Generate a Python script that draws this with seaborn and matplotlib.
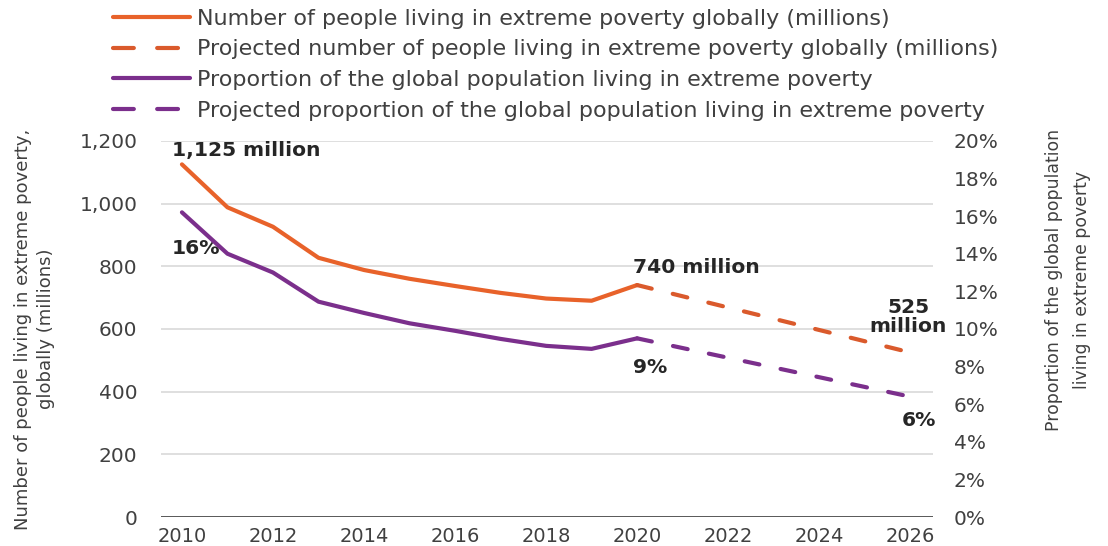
import matplotlib
matplotlib.use("Agg")
import matplotlib.pyplot as plt
import matplotlib.ticker as mticker
from matplotlib.lines import Line2D
import seaborn as sns
import pandas as pd

# ---- data ----
years_hist = [2010, 2011, 2012, 2013, 2014, 2015, 2016, 2017, 2018, 2019, 2020]
millions_hist = [1125, 988, 926, 827, 788, 760, 737, 715, 697, 690, 740]
share_hist = [16.2, 14.0, 13.0, 11.45, 10.85, 10.3, 9.9, 9.47, 9.1, 8.94, 9.5]
years_proj = [2020, 2026]
millions_proj = [740, 525]
share_proj = [9.5, 6.4]

legend_labels = [
    "Number of people living in extreme poverty globally (millions)",
    "Projected number of people living in extreme poverty globally (millions)",
    "Proportion of the global population living in extreme poverty",
    "Projected proportion of the global population living in extreme poverty",
]
left_ticks = [0, 200, 400, 600, 800, 1000, 1200]
right_ticks = [0, 2, 4, 6, 8, 10, 12, 14, 16, 18, 20]
x_ticks = [2010, 2012, 2014, 2016, 2018, 2020, 2022, 2024, 2026]

ORANGE = "#E8622A"
ORANGE_D = "#DA5A2C"
PURPLE = "#7B2F8C"
TXT = "#404040"
BOLD = "#262626"

sns.set_theme(style="white")
plt.rcParams["font.family"] = ["DejaVu Sans"]

df_hist = pd.DataFrame({"year": years_hist, "millions": millions_hist, "share": share_hist})
df_proj = pd.DataFrame({"year": years_proj, "millions": millions_proj, "share": share_proj})

fig = plt.figure(figsize=(11.08, 5.46), dpi=100)
ax = fig.add_axes([161 / 1108, 0.0531, 772 / 1108, 0.6889])
ax2 = ax.twinx()

LW = 3.0
dash = (3.6, 5.2)

sns.lineplot(data=df_hist, x="year", y="millions", ax=ax, color=ORANGE, lw=LW,
             solid_capstyle="round", legend=False)
sns.lineplot(data=df_proj, x="year", y="millions", ax=ax, color=ORANGE_D, lw=LW,
             legend=False, dashes=False)
ax.lines[-1].set_dashes(dash)
ax.lines[-1].set_dash_capstyle("round")

sns.lineplot(data=df_hist, x="year", y="share", ax=ax2, color=PURPLE, lw=LW,
             solid_capstyle="round", legend=False)
sns.lineplot(data=df_proj, x="year", y="share", ax=ax2, color=PURPLE, lw=LW,
             legend=False, dashes=False)
ax2.lines[-1].set_dashes(dash)
ax2.lines[-1].set_dash_capstyle("round")

ax.set_xlim(2009.54, 2026.5)
ax.set_ylim(0, 1200)
ax2.set_ylim(0, 20)
ax.set_xticks(x_ticks)
ax.set_yticks(left_ticks)
ax2.set_yticks(right_ticks)
ax.yaxis.set_major_formatter(mticker.FuncFormatter(lambda v, p: f"{int(v):,}"))
ax2.yaxis.set_major_formatter(mticker.FuncFormatter(lambda v, p: f"{int(v)}%"))

ax.grid(axis="y", color="#D9D9D9", lw=1.2)
ax.set_axisbelow(True)
for a in (ax, ax2):
    for s in ("top", "left", "right", "bottom"):
        a.spines[s].set_visible(False)
ax.axhline(0, color="#595959", lw=1.4, zorder=1)

ax.tick_params(axis="y", length=0, pad=17, labelsize=14.5, labelcolor=TXT)
ax.tick_params(axis="x", length=0, pad=7, labelsize=14, labelcolor=TXT)
ax2.tick_params(axis="y", length=0, pad=15, labelsize=14.5, labelcolor=TXT)

ax.set_xlabel("")
ax.set_ylabel("Number of people living in extreme poverty,\nglobally (millions)",
              fontsize=13, color=TXT, linespacing=1.35)
ax.yaxis.set_label_coords(-0.137, 0.5)
ax2.set_ylabel("Proportion of the global population\nliving in extreme poverty",
               fontsize=12.4, color=TXT, linespacing=1.7)
ax2.yaxis.set_label_coords(1.145, 0.63)

bold = dict(fontsize=14.6, fontweight="bold", color=BOLD)
ax.text(2009.78, 1168, "1,125 million", ha="left", va="center", **bold)
ax.text(2009.78, 858, "16%", ha="left", va="center", **bold)
ax.text(2019.9, 795, "740 million", ha="left", va="center", **bold)
ax.text(2019.9, 476, "9%", ha="left", va="center", **bold)
ax.text(2025.96, 637, "525\nmillion", ha="center", va="center", linespacing=1.0, **bold)
ax.text(2026.2, 308, "6%", ha="center", va="center", **bold)

handles = [
    Line2D([], [], color=ORANGE, lw=LW, solid_capstyle="round"),
    Line2D([], [], color=ORANGE_D, lw=LW, dashes=(5.0, 5.6), dash_capstyle="round"),
    Line2D([], [], color=PURPLE, lw=LW, solid_capstyle="round"),
    Line2D([], [], color=PURPLE, lw=LW, dashes=(5.0, 5.6), dash_capstyle="round"),
]
leg = fig.legend(handles, legend_labels, loc="upper left", bbox_to_anchor=(0.102, 0.984),
                 frameon=False, fontsize=16, handlelength=3.46, handletextpad=0.32,
                 labelspacing=0.48, borderpad=0.0, borderaxespad=0.0)
for t in leg.get_texts():
    t.set_color(TXT)

fig.savefig("out.png", dpi=100)
